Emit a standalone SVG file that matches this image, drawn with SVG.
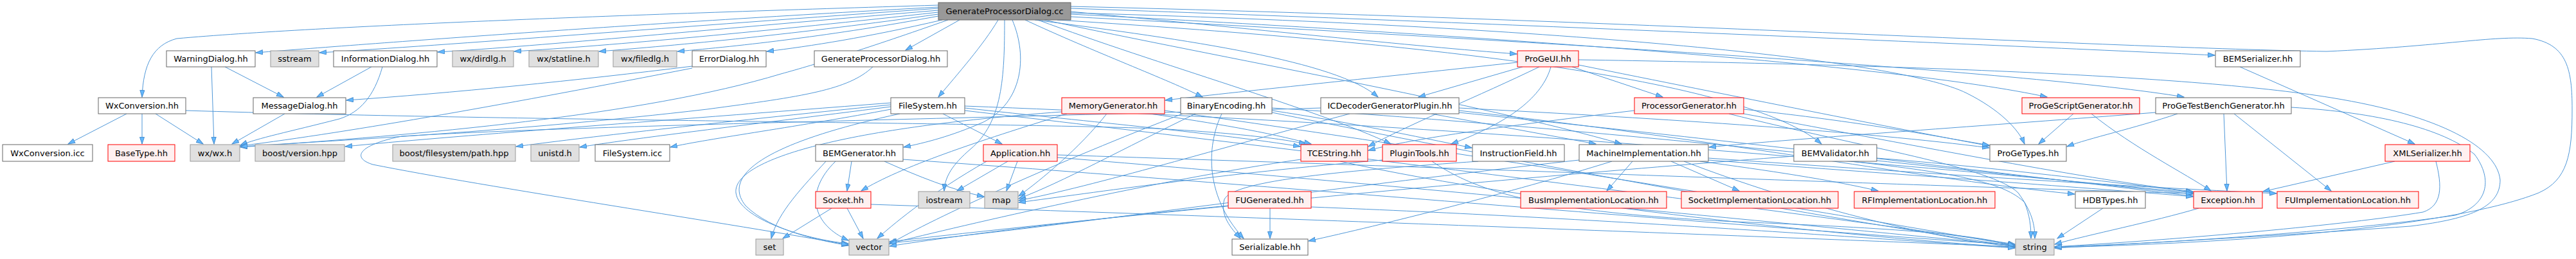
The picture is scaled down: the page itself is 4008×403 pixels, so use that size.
<svg xmlns="http://www.w3.org/2000/svg" width="4008" height="403" viewBox="0 0 4008 403">
<style>
.e{fill:none;stroke:#4f97d8;stroke-width:1;marker-end:url(#arr)}
rect{stroke-width:1}
.w{fill:#ffffff;stroke:#666666}
.g{fill:#e0e0e0;stroke:#999999}
.r{fill:#fff0f0;stroke:#ff0000}
.rt{fill:#999999;stroke:#666666}
text{font-family:"DejaVu Sans","Liberation Sans",sans-serif;font-size:13px;text-anchor:middle;fill:#000000}
</style>
<defs>
<marker id="arr" markerWidth="12" markerHeight="9" refX="11" refY="4" orient="auto" markerUnits="userSpaceOnUse">
<path d="M0.5,0.5 L11,4 L0.5,7.5 Z" fill="#63b8ff" stroke="#4a8fcf" stroke-width="1"/>
</marker>
</defs>
<rect x="0" y="0" width="4008" height="403" fill="#ffffff"/>
<g id="edges">
<path class="e" d="M1460,8 C1000,22 500,40 275,60 C238,70 223,100 221,151"/>
<path class="e" d="M1460,11 C1000,36 600,66 398,82"/>
<path class="e" d="M1460,13 C1050,42 700,70 497,82"/>
<path class="e" d="M1460,16 C1100,46 850,71 681,81"/>
<path class="e" d="M1460,19 C1200,48 950,71 800,80"/>
<path class="e" d="M1460,22 C1250,52 1050,71 932,80"/>
<path class="e" d="M1460,25 C1300,55 1150,72 1054,80"/>
<path class="e" d="M1466,31 C1350,58 1260,72 1193,80"/>
<path class="e" d="M1475,31 C1350,75 1270,100 1215,115 C1000,180 650,210 374,229"/>
<path class="e" d="M1493,31 L1409,78"/>
<path class="e" d="M1553,31 C1530,70 1490,115 1460,151"/>
<path class="e" d="M1595,31 C1700,80 1820,125 1871,151"/>
<path class="e" d="M1610,31 C1850,62 2080,95 2144,151"/>
<path class="e" d="M1666,18 C1950,45 2200,72 2360,84"/>
<path class="e" d="M1666,13 C2300,35 3100,70 3446,86"/>
<path class="e" d="M1666,10 C2500,30 3300,75 3620,80 C3800,72 3880,55 3940,60 C3995,70 4002,110 4002,170 C4002,240 3995,280 3950,300 C3850,340 3600,375 3197,385"/>
<path class="e" d="M1666,22 C2300,55 2950,100 3185,151"/>
<path class="e" d="M1666,26 C2400,65 3150,110 3398,151"/>
<path class="e" d="M1666,20 C2400,40 2950,90 3060,145 C3110,170 3140,200 3150,224"/>
<path class="e" d="M1645,31 C2100,60 2700,110 2834,224"/>
<path class="e" d="M1625,31 C1900,90 2300,160 2523,224"/>
<path class="e" d="M1615,31 C1800,100 2050,170 2164,224"/>
<path class="e" d="M1575,31 C1600,90 1590,160 1530,190 C1480,212 1440,222 1406,229"/>
<path class="e" d="M1563,31 C1563,120 1560,190 1510,232 C1482,256 1470,275 1469,297"/>
<path class="e" d="M197,177 L106,224"/>
<path class="e" d="M221,177 L221,224"/>
<path class="e" d="M242,177 L316,224"/>
<path class="e" d="M289,172 C800,188 1500,190 1800,200 C1920,207 1990,215 2032,224"/>
<path class="e" d="M350,104 L441,151"/>
<path class="e" d="M329,104 L333,224"/>
<path class="e" d="M578,104 L493,151"/>
<path class="e" d="M595,104 C582,150 560,175 528,185 C450,205 400,215 374,226"/>
<path class="e" d="M1077,103 C900,125 700,145 539,156"/>
<path class="e" d="M1077,106 C800,160 550,205 374,227"/>
<path class="e" d="M443,177 L361,224"/>
<path class="e" d="M1358,104 C1320,140 1250,150 1100,170 C800,205 500,220 374,228"/>
<path class="e" d="M1386,160 C1000,190 700,212 537,228"/>
<path class="e" d="M1386,163 C1100,192 900,215 803,228"/>
<path class="e" d="M1386,166 C1150,196 980,216 902,229"/>
<path class="e" d="M1386,170 C1250,196 1100,216 1043,229"/>
<path class="e" d="M1467,177 L1559,224"/>
<path class="e" d="M1400,177 C1200,220 1120,270 1160,320 C1200,360 1280,375 1320,382"/>
<path class="e" d="M1501,172 C2000,230 2800,330 3135,380"/>
<path class="e" d="M1501,168 C1700,190 1900,208 2023,228"/>
<path class="e" d="M1501,165 C2300,195 3000,260 3412,300"/>
<path class="e" d="M1722,177 C1680,230 1620,280 1585,305"/>
<path class="e" d="M1790,177 C1890,192 1970,205 2040,224"/>
<path class="e" d="M1660,177 C1520,220 1400,260 1340,297"/>
<path class="e" d="M1652,174 C1300,200 1140,250 1145,300 C1150,340 1250,372 1320,379"/>
<path class="e" d="M1812,172 C2300,240 2900,340 3135,382"/>
<path class="e" d="M1901,177 C1880,220 1870,300 1935,371"/>
<path class="e" d="M1979,172 C2100,190 2200,212 2290,230"/>
<path class="e" d="M1860,177 C1750,230 1650,285 1585,309"/>
<path class="e" d="M1840,177 C1650,250 1450,340 1384,380"/>
<path class="e" d="M1979,175 C2400,260 2900,350 3135,383"/>
<path class="e" d="M1979,168 C2500,200 3100,270 3412,302"/>
<path class="e" d="M2227,177 L2483,224"/>
<path class="e" d="M2100,177 C1900,230 1700,290 1585,312"/>
<path class="e" d="M2270,168 C2600,185 2900,205 3095,230"/>
<path class="e" d="M2270,172 C2700,220 3000,280 3228,302"/>
<path class="e" d="M2270,175 C2800,230 3200,280 3412,305"/>
<path class="e" d="M2055,168 C1500,185 900,195 625,212 C560,225 545,245 580,256 C750,290 1150,350 1320,381"/>
<path class="e" d="M2361,97 C2150,120 1950,140 1813,156"/>
<path class="e" d="M2369,104 L2207,151"/>
<path class="e" d="M2446,104 L2587,151"/>
<path class="e" d="M2395,104 C2300,150 2200,190 2129,228"/>
<path class="e" d="M2413,104 C2400,150 2350,190 2258,224"/>
<path class="e" d="M2456,101 C2700,150 2950,200 3095,227"/>
<path class="e" d="M2456,93 C2900,100 3400,115 3627,152 C3800,180 3885,230 3890,280 C3890,320 3850,340 3750,352 C3500,370 3300,380 3197,386"/>
<path class="e" d="M2713,170 C2900,190 3000,210 3095,226"/>
<path class="e" d="M2713,177 C3000,230 3250,280 3412,298"/>
<path class="e" d="M2543,172 C2350,195 2200,215 2129,234"/>
<path class="e" d="M2690,177 C2900,230 3100,260 3140,300 C3162,330 3166,350 3166,371"/>
<path class="e" d="M2300,251 C2100,265 1920,280 1905,310 C1898,335 1915,355 1930,371"/>
<path class="e" d="M2540,251 L2500,297"/>
<path class="e" d="M2600,251 L2706,297"/>
<path class="e" d="M2645,251 C2750,265 2850,280 2922,297"/>
<path class="e" d="M2658,246 C3000,270 3300,290 3542,301"/>
<path class="e" d="M2508,251 C2350,300 2150,350 2036,375"/>
<path class="e" d="M2658,249 C3000,275 3250,292 3412,306"/>
<path class="e" d="M2457,249 C2000,300 1600,360 1384,378"/>
<path class="e" d="M2620,251 C2800,320 3000,370 3135,384"/>
<path class="e" d="M2920,246 C3100,260 3300,285 3412,299"/>
<path class="e" d="M2880,251 C3050,270 3120,285 3150,315 C3158,335 3160,352 3160,371"/>
<path class="e" d="M2791,243 C2300,280 1700,340 1384,376"/>
<path class="e" d="M1325,251 L1318,297"/>
<path class="e" d="M1376,251 C1430,275 1480,295 1531,306"/>
<path class="e" d="M1285,251 C1250,290 1210,330 1200,371"/>
<path class="e" d="M1300,251 C1250,300 1265,350 1320,374"/>
<path class="e" d="M1405,248 C2000,290 2800,360 3135,381"/>
<path class="e" d="M1294,324 L1218,371"/>
<path class="e" d="M1318,324 L1343,371"/>
<path class="e" d="M1355,318 C2000,340 2800,370 3135,384"/>
<path class="e" d="M1568,251 L1489,297"/>
<path class="e" d="M1583,251 L1566,297"/>
<path class="e" d="M1535,251 C1450,300 1400,340 1365,371"/>
<path class="e" d="M1645,245 C2200,290 2800,350 3135,382"/>
<path class="e" d="M1645,241 C2300,262 3000,290 3412,301"/>
<path class="e" d="M2085,251 C2400,320 2900,370 3135,385"/>
<path class="e" d="M2024,248 C1800,280 1500,350 1384,379"/>
<path class="e" d="M2228,251 C2300,300 2400,330 2700,345 C2950,355 3080,365 3135,383"/>
<path class="e" d="M2151,249 C1900,270 1700,300 1585,315"/>
<path class="e" d="M1976,324 L1976,371"/>
<path class="e" d="M1911,320 C1700,340 1500,365 1384,383"/>
<path class="e" d="M2040,322 C2500,340 2900,370 3135,386"/>
<path class="e" d="M3272,324 L3201,371"/>
<path class="e" d="M3421,324 C3350,345 3250,365 3197,380"/>
<path class="e" d="M3726,251 L3521,298"/>
<path class="e" d="M3790,251 C3800,290 3800,320 3770,330 C3650,350 3400,372 3197,384"/>
<path class="e" d="M3485,104 L3757,224"/>
<path class="e" d="M3226,177 L3172,224"/>
<path class="e" d="M3254,177 C3320,230 3400,270 3440,297"/>
<path class="e" d="M3388,177 C3320,200 3250,215 3216,228"/>
<path class="e" d="M3460,177 L3465,297"/>
<path class="e" d="M3476,177 L3627,297"/>
<path class="e" d="M3565,167 C3700,175 3800,200 3850,240 C3880,280 3870,320 3820,335 C3650,360 3350,380 3197,384"/>
<path class="e" d="M3354,175 C3100,195 2800,215 2659,229"/>
</g>
<g id="n_root"><rect class="rt" x="1460" y="4" width="206" height="27"/><text x="1563" y="22">GenerateProcessorDialog.cc</text></g>
<g id="n_warn"><rect class="w" x="259" y="79" width="138" height="25"/><text x="328" y="96">WarningDialog.hh</text></g>
<g id="n_sstream"><rect class="g" x="421" y="79" width="75" height="25"/><text x="458.5" y="96">sstream</text></g>
<g id="n_info"><rect class="w" x="519" y="79" width="161" height="25"/><text x="599.5" y="96">InformationDialog.hh</text></g>
<g id="n_dirdlg"><rect class="g" x="704" y="79" width="95" height="25"/><text x="751.5" y="96">wx/dirdlg.h</text></g>
<g id="n_statline"><rect class="g" x="823" y="79" width="108" height="25"/><text x="877" y="96">wx/statline.h</text></g>
<g id="n_filedlg"><rect class="g" x="954" y="79" width="99" height="25"/><text x="1003.5" y="96">wx/filedlg.h</text></g>
<g id="n_error"><rect class="w" x="1077" y="79" width="115" height="25"/><text x="1134.5" y="96">ErrorDialog.hh</text></g>
<g id="n_gpdh"><rect class="w" x="1267" y="79" width="207" height="25"/><text x="1370.5" y="96">GenerateProcessorDialog.hh</text></g>
<g id="n_progeui"><rect class="r" x="2361" y="79" width="95" height="25"/><text x="2408.5" y="96">ProGeUI.hh</text></g>
<g id="n_bemser"><rect class="w" x="3447" y="79" width="132" height="25"/><text x="3513" y="96">BEMSerializer.hh</text></g>
<g id="n_wxconv"><rect class="w" x="153" y="152" width="136" height="25"/><text x="221" y="169">WxConversion.hh</text></g>
<g id="n_msg"><rect class="w" x="394" y="152" width="144" height="25"/><text x="466" y="169">MessageDialog.hh</text></g>
<g id="n_fs"><rect class="w" x="1386" y="152" width="115" height="25"/><text x="1443.5" y="169">FileSystem.hh</text></g>
<g id="n_memgen"><rect class="r" x="1652" y="152" width="160" height="25"/><text x="1732" y="169">MemoryGenerator.hh</text></g>
<g id="n_binenc"><rect class="w" x="1837" y="152" width="142" height="25"/><text x="1908" y="169">BinaryEncoding.hh</text></g>
<g id="n_icdec"><rect class="w" x="2055" y="152" width="215" height="25"/><text x="2162.5" y="169">ICDecoderGeneratorPlugin.hh</text></g>
<g id="n_procgen"><rect class="r" x="2543" y="152" width="170" height="25"/><text x="2628" y="169">ProcessorGenerator.hh</text></g>
<g id="n_scriptgen"><rect class="r" x="3146" y="152" width="183" height="25"/><text x="3237.5" y="169">ProGeScriptGenerator.hh</text></g>
<g id="n_tbgen"><rect class="w" x="3354" y="152" width="211" height="25"/><text x="3459.5" y="169">ProGeTestBenchGenerator.hh</text></g>
<g id="n_wxicc"><rect class="w" x="4" y="225" width="140" height="26"/><text x="74" y="242.5">WxConversion.icc</text></g>
<g id="n_basetype"><rect class="r" x="168" y="225" width="104" height="26"/><text x="220" y="242.5">BaseType.hh</text></g>
<g id="n_wxh"><rect class="g" x="296" y="225" width="77" height="26"/><text x="334.5" y="242.5">wx/wx.h</text></g>
<g id="n_boostver"><rect class="g" x="397" y="225" width="139" height="26"/><text x="466.5" y="242.5">boost/version.hpp</text></g>
<g id="n_boostpath"><rect class="g" x="611" y="225" width="191" height="26"/><text x="706.5" y="242.5">boost/filesystem/path.hpp</text></g>
<g id="n_unistd"><rect class="g" x="826" y="225" width="75" height="26"/><text x="863.5" y="242.5">unistd.h</text></g>
<g id="n_fsicc"><rect class="w" x="926" y="225" width="116" height="26"/><text x="984" y="242.5">FileSystem.icc</text></g>
<g id="n_bemgen"><rect class="w" x="1269" y="225" width="136" height="26"/><text x="1337" y="242.5">BEMGenerator.hh</text></g>
<g id="n_app"><rect class="r" x="1530" y="225" width="115" height="26"/><text x="1587.5" y="242.5">Application.hh</text></g>
<g id="n_tcestr"><rect class="r" x="2024" y="225" width="104" height="26"/><text x="2076" y="242.5">TCEString.hh</text></g>
<g id="n_plugin"><rect class="r" x="2151" y="225" width="115" height="26"/><text x="2208.5" y="242.5">PluginTools.hh</text></g>
<g id="n_instrf"><rect class="w" x="2291" y="225" width="143" height="26"/><text x="2362.5" y="242.5">InstructionField.hh</text></g>
<g id="n_machimpl"><rect class="w" x="2457" y="225" width="201" height="26"/><text x="2557.5" y="242.5">MachineImplementation.hh</text></g>
<g id="n_bemval"><rect class="w" x="2791" y="225" width="129" height="26"/><text x="2855.5" y="242.5">BEMValidator.hh</text></g>
<g id="n_progetypes"><rect class="w" x="3096" y="225" width="119" height="26"/><text x="3155.5" y="242.5">ProGeTypes.hh</text></g>
<g id="n_xmlser"><rect class="r" x="3711" y="225" width="132" height="26"/><text x="3777" y="242.5">XMLSerializer.hh</text></g>
<g id="n_socket"><rect class="r" x="1269" y="298" width="86" height="26"/><text x="1312" y="315.5">Socket.hh</text></g>
<g id="n_iostream"><rect class="g" x="1429" y="298" width="80" height="26"/><text x="1469" y="315.5">iostream</text></g>
<g id="n_map"><rect class="g" x="1532" y="298" width="52" height="26"/><text x="1558" y="315.5">map</text></g>
<g id="n_fugen"><rect class="r" x="1911" y="298" width="129" height="26"/><text x="1975.5" y="315.5">FUGenerated.hh</text></g>
<g id="n_busimpl"><rect class="r" x="2366" y="298" width="227" height="26"/><text x="2479.5" y="315.5">BusImplementationLocation.hh</text></g>
<g id="n_sockimpl"><rect class="r" x="2616" y="298" width="244" height="26"/><text x="2738" y="315.5">SocketImplementationLocation.hh</text></g>
<g id="n_rfimpl"><rect class="r" x="2885" y="298" width="219" height="26"/><text x="2994.5" y="315.5">RFImplementationLocation.hh</text></g>
<g id="n_hdbtypes"><rect class="w" x="3229" y="298" width="109" height="26"/><text x="3283.5" y="315.5">HDBTypes.hh</text></g>
<g id="n_exception"><rect class="r" x="3413" y="298" width="107" height="26"/><text x="3466.5" y="315.5">Exception.hh</text></g>
<g id="n_fuimpl"><rect class="r" x="3543" y="298" width="220" height="26"/><text x="3653" y="315.5">FUImplementationLocation.hh</text></g>
<g id="n_set"><rect class="g" x="1176" y="372" width="43" height="25"/><text x="1197.5" y="389">set</text></g>
<g id="n_vector"><rect class="g" x="1321" y="372" width="62" height="25"/><text x="1352" y="389">vector</text></g>
<g id="n_serial"><rect class="w" x="1917" y="372" width="118" height="25"/><text x="1976" y="389">Serializable.hh</text></g>
<g id="n_string"><rect class="g" x="3136" y="372" width="60" height="25"/><text x="3166" y="389">string</text></g>
</svg>
